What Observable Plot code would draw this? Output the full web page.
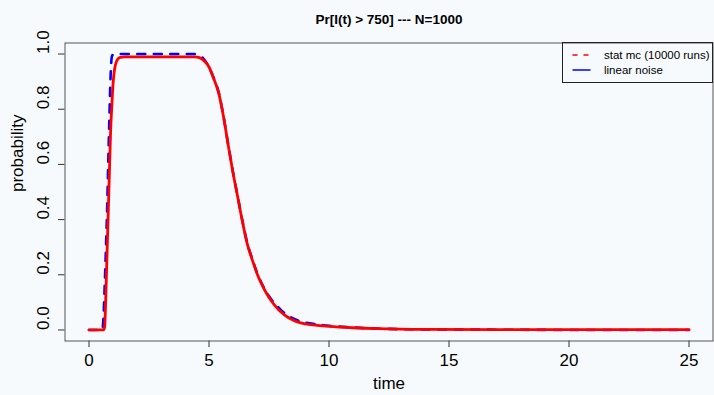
<!DOCTYPE html>
<html><head><meta charset="utf-8">
<script src="https://cdn.jsdelivr.net/npm/d3@7"></script>
<script src="https://cdn.jsdelivr.net/npm/@observablehq/plot@0.6"></script>
<style>
html,body{margin:0;padding:0;background:#f6fafc;}
#chart{position:relative;width:714px;height:395px;overflow:hidden;}
#chart svg{display:block;}
#overlay{position:absolute;left:0;top:0;pointer-events:none;}
</style></head><body>
<div id="chart"></div>
<script>
// ---- data ----
const timeMc = [0, 0.6, 0.65, 0.7, 0.75, 0.8, 0.85, 0.9, 0.95, 1.0, 1.05, 1.1, 1.2, 1.3, 1.5, 2, 3, 4, 4.4, 4.6, 4.8, 5.0, 5.2, 5.4, 5.6, 5.8, 6.0, 6.2, 6.4, 6.6, 6.8, 7.0, 7.2, 7.4, 7.6, 7.8, 8.0, 8.3, 8.6, 9.0, 9.5, 10, 11, 12, 14, 17, 20, 25];
const statMc = [0, 0, 0.01, 0.12, 0.27, 0.42, 0.57, 0.72, 0.81, 0.89, 0.935, 0.96, 0.982, 0.988, 0.99, 0.99, 0.99, 0.99, 0.99, 0.987, 0.975, 0.953, 0.91, 0.86, 0.775, 0.67, 0.57, 0.48, 0.39, 0.31, 0.255, 0.205, 0.165, 0.132, 0.105, 0.083, 0.065, 0.045, 0.032, 0.022, 0.017, 0.013, 0.008, 0.005, 0.002, 0.001, 0.001, 0.001];
const timeLn = [0, 0.55, 0.6, 0.65, 0.7, 0.75, 0.8, 0.85, 0.9, 0.95, 1.0, 1.2, 2, 3, 4, 4.4, 4.6, 4.8, 5.0, 5.2, 5.4, 5.6, 5.8, 6.0, 6.2, 6.4, 6.6, 6.8, 7.0, 7.2, 7.4, 7.6, 7.8, 8.0, 8.3, 8.6, 9.0, 9.5, 10, 11, 12, 14, 17, 20, 25];
const linearNoise = [0, 0, 0.04, 0.15, 0.28, 0.42, 0.6, 0.77, 0.92, 0.99, 0.998, 1.0, 1.0, 1.0, 1.0, 1.0, 0.995, 0.98, 0.952, 0.912, 0.862, 0.777, 0.672, 0.572, 0.482, 0.392, 0.313, 0.258, 0.208, 0.168, 0.136, 0.11, 0.09, 0.072, 0.052, 0.038, 0.027, 0.02, 0.015, 0.009, 0.005, 0.002, 0.001, 0, 0];
const xTicks = [0, 5, 10, 15, 20, 25];
const yTicks = [0, 0.2, 0.4, 0.6, 0.8, 1.0];
const titleText = "Pr[I(t) > 750] --- N=1000";
const xLabel = "time";
const yLabel = "probability";
const seriesNames = ["stat mc (10000 runs)", "linear noise"];

const mcRows = timeMc.map((t, i) => ({t, p: statMc[i]}));
const lnRows = timeLn.map((t, i) => ({t, p: linearNoise[i]}));

const font = "'Liberation Sans', Arial, Helvetica, sans-serif";

const plot = Plot.plot({
  width: 714, height: 395,
  marginLeft: 64.5, marginRight: 1.5, marginTop: 42.5, marginBottom: 54.5,
  style: {background: "transparent", fontFamily: font, fontSize: "17px", color: "#000"},
  x: {domain: [-1, 26]},
  y: {domain: [-0.04, 1.04]},
  marks: [
    Plot.axisX({ticks: xTicks, tickSize: 6.5, tickPadding: 6, label: null, tickFormat: d => String(d), stroke: "#333", fontSize: 17}),
    Plot.axisY({ticks: yTicks, tickSize: 6.5, tickFormat: () => "", label: null, stroke: "#333"}),
    Plot.text(yTicks, {y: d => d, text: d => d.toFixed(1), frameAnchor: "left", dx: -21.5, rotate: -90, fontSize: 17}),
    Plot.text([xLabel], {frameAnchor: "bottom", dy: 48, text: d => d, fontSize: 17}),
    Plot.text([yLabel], {frameAnchor: "left", dx: -47, rotate: -90, text: d => d, fontSize: 17}),
    Plot.text([titleText], {frameAnchor: "top", dy: -28.5, text: d => d, fontWeight: "bold", fontSize: 13.5}),
    Plot.line(lnRows, {x: "t", y: "p", stroke: "#0000ff", strokeWidth: 2.6, strokeDasharray: "8,8.5", strokeLinecap: "round", curve: "monotone-x"}),
    Plot.line(mcRows, {x: "t", y: "p", stroke: "#ff0000", strokeWidth: 2.8, curve: "monotone-x"}),
    Plot.frame({stroke: "#555"})
  ]
});
const chart = document.getElementById("chart");
chart.appendChild(plot);

// legend box (top-right, inside the plot area)
const svg = d3.select(chart).append("svg").attr("id", "overlay").attr("width", 714).attr("height", 395);
const lg = svg.append("g").attr("transform", "translate(562.5,42.5)");
lg.append("rect").attr("width", 150).attr("height", 40).attr("fill", "none").attr("stroke", "#222").attr("stroke-width", 1);
const styles = [
  {stroke: "#ff0000", dash: "5,6"},
  {stroke: "#0000ff", dash: null}
];
seriesNames.forEach((name, i) => {
  const y = 12.5 + i * 15;
  const ln = lg.append("line").attr("x1", 10).attr("x2", 28).attr("y1", y).attr("y2", y)
    .attr("stroke", styles[i].stroke).attr("stroke-width", 1.5);
  if (styles[i].dash) ln.attr("stroke-dasharray", styles[i].dash);
  lg.append("text").attr("x", 41.5).attr("y", y).attr("dy", "0.35em")
    .attr("font-family", font).attr("font-size", 11.5).text(name);
});
</script>
</body></html>
